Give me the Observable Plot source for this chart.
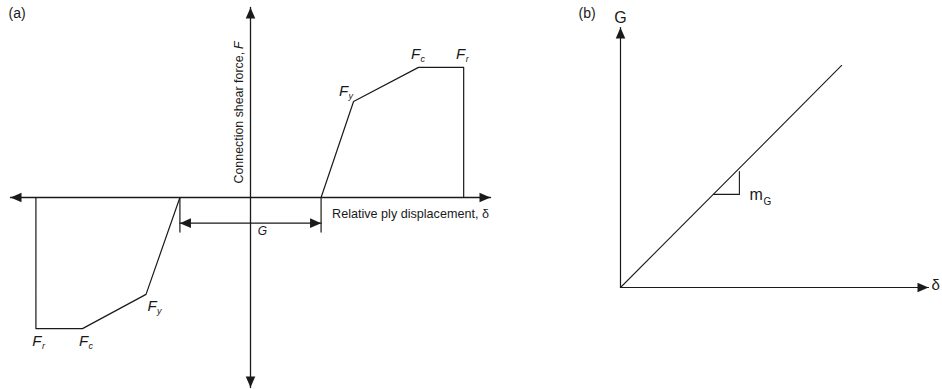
<!DOCTYPE html>
<html><head><meta charset="utf-8">
<script src="https://cdn.jsdelivr.net/npm/d3@7"></script>
<script src="https://cdn.jsdelivr.net/npm/@observablehq/plot@0.6"></script>
<style>
body{margin:0;background:#fff;}
#wrap{display:flex;width:942px;height:389px;overflow:hidden;background:#fff;}
#wrap svg{display:block;flex:none;}
</style></head><body><div id="wrap"></div>
<script>
// ---------- Panel (a): connection backbone (schematic units) ----------
const posDelta = [5, 7.3, 11.9, 15.1, 15.1];
const posForce = [0, 5.05, 6.85, 6.85, 0];
const negDelta = [-5, -7.4, -11.9, -15.2, -15.2];
const negForce = [0, -5.1, -6.9, -6.9, 0];
const pointSubs = ["", "y", "c", "r", ""];          // F_y, F_c, F_r at vertices
const gapHalf = 5;                                    // G / 2
const gapLevel = -1.35;                               // dimension line level
const gapTickEnd = -1.82;                             // end of extension lines
const axisA = {xMin: -17, xMax: 17, yMin: -10, yMax: 10};
const yLabelA = "Connection shear force,";
const yVarA = "F";
const yLabelAt = 7.82;
const xLabelA = "Relative ply displacement, δ";
const gapLabel = "G";
const titleA = "(a)";

// ---------- Panel (b): G vs delta ----------
const bDelta = [0, 7.18];
const bG = [0, 8.54];
const slopeDelta = [3.02, 3.86, 3.86];
const slopeG = [3.58, 3.58, 4.46];
const axisB = {xMax: 10, yMax: 10};
const titleB = "(b)";
const yLabelB = "G";
const xLabelB = "δ";
const slopeLabel = "m";
const slopeSub = "G";

// ---------- helpers ----------
const INK = "#1a1a1a";
const FONT = "'Liberation Sans', Arial, Helvetica, sans-serif";
const pts = (xs, ys, extra) => xs.map((x, i) => ({x, y: ys[i], ...(extra ? {s: extra[i]} : {})}));

function arrowSym(angle) { // tip at origin, pointing in direction angle (deg, 0=right, 90=down)
  const a = angle * Math.PI / 180, c = Math.cos(a), s = Math.sin(a);
  const L = 11, w = 4.8;
  const p = [[0, 0], [-L, -w], [-L, w]].map(([x, y]) => [x * c - y * s, x * s + y * c]);
  return {draw(ctx) { ctx.moveTo(p[0][0], p[0][1]); ctx.lineTo(p[1][0], p[1][1]); ctx.lineTo(p[2][0], p[2][1]); ctx.closePath(); }};
}
const head = (x, y, angle) => Plot.dot([{x, y}], {x: "x", y: "y", symbol: arrowSym(angle), r: 4, fill: INK, stroke: "none"});

function fLabels(data, dx, dy) {
  return [
    Plot.text(data, {x: "x", y: "y", text: () => "F", dx, dy, fontSize: 15, fontStyle: "italic", textAnchor: "middle", lineAnchor: "bottom", fill: INK}),
    Plot.text(data, {x: "x", y: "y", text: "s", dx: dx + 5, dy: dy + 3, fontSize: 9, fontStyle: "italic", textAnchor: "start", lineAnchor: "bottom", fill: INK})
  ];
}

const pos = pts(posDelta, posForce, pointSubs);
const neg = pts(negDelta, negForce, pointSubs);

const plotA = Plot.plot({
  width: 560, height: 389,
  marginTop: 0, marginRight: 0, marginBottom: 0, marginLeft: 0,
  style: {fontFamily: FONT, background: "transparent"},
  x: {domain: [axisA.xMin, axisA.xMax], range: [10, 490], axis: null},
  y: {domain: [axisA.yMin, axisA.yMax], range: [387, 7], axis: null},
  marks: [
    // axes
    Plot.line(pts([axisA.xMin, axisA.xMax], [0, 0]), {x: "x", y: "y", stroke: INK, strokeWidth: 1.3}),
    Plot.line(pts([0, 0], [axisA.yMin, axisA.yMax]), {x: "x", y: "y", stroke: INK, strokeWidth: 1.3}),
    head(axisA.xMax, 0, 0), head(axisA.xMin, 0, 180),
    head(0, axisA.yMax, -90), head(0, axisA.yMin, 90),
    // backbone curves
    Plot.line(pos, {x: "x", y: "y", stroke: INK, strokeWidth: 1.2}),
    Plot.line(neg, {x: "x", y: "y", stroke: INK, strokeWidth: 1.2}),
    // G dimension
    Plot.line(pts([-gapHalf, -gapHalf], [0, gapTickEnd]), {x: "x", y: "y", stroke: INK, strokeWidth: 1.2}),
    Plot.line(pts([gapHalf, gapHalf], [0, gapTickEnd]), {x: "x", y: "y", stroke: INK, strokeWidth: 1.2}),
    Plot.line(pts([-gapHalf, gapHalf], [gapLevel, gapLevel]), {x: "x", y: "y", stroke: INK, strokeWidth: 1.2}),
    head(-gapHalf, gapLevel, 180), head(gapHalf, gapLevel, 0),
    Plot.text([gapLabel], {x: () => 0, y: () => gapLevel, text: d => d, dx: 12, dy: 8, fontSize: 12, fontStyle: "italic", fill: INK}),
    // point labels
    ...fLabels([pos[1]], -10, -6),
    ...fLabels([pos[2], pos[3]], -3, -8),
    ...fLabels([neg[1]], 6, 17),
    ...fLabels([neg[2], neg[3]], 1, 17),
    // axis labels
    Plot.text([yLabelA], {x: () => 0, y: () => yLabelAt, text: d => d, rotate: -90, textAnchor: "end", lineAnchor: "middle", dx: -11, dy: 3, fontSize: 12.4, fill: INK}),
    Plot.text([yVarA], {x: () => 0, y: () => yLabelAt, text: d => d, rotate: -90, textAnchor: "start", lineAnchor: "middle", dx: -11, dy: 0, fontSize: 12.4, fontStyle: "italic", fill: INK}),
    Plot.text([xLabelA], {x: () => gapHalf, y: () => 0, text: d => d, textAnchor: "start", lineAnchor: "middle", dx: 11, dy: 16, fontSize: 12.6, fill: INK}),
    Plot.text([titleA], {frameAnchor: "top-left", text: d => d, dx: 8, dy: 8, textAnchor: "start", lineAnchor: "top", fontSize: 14, fill: INK})
  ]
});

const plotB = Plot.plot({
  width: 382, height: 389,
  marginTop: 0, marginRight: 0, marginBottom: 0, marginLeft: 0,
  style: {fontFamily: FONT, background: "transparent", overflow: "hidden"},
  x: {domain: [0, axisB.xMax], range: [60, 368], axis: null},
  y: {domain: [0, axisB.yMax], range: [287, 27], axis: null},
  marks: [
    Plot.line(pts([0, axisB.xMax], [0, 0]), {x: "x", y: "y", stroke: INK, strokeWidth: 1.2}),
    Plot.line(pts([0, 0], [0, axisB.yMax]), {x: "x", y: "y", stroke: INK, strokeWidth: 1.2}),
    head(axisB.xMax, 0, 0), head(0, axisB.yMax, -90),
    Plot.line(pts(bDelta, bG), {x: "x", y: "y", stroke: INK, strokeWidth: 1.1}),
    Plot.line(pts(slopeDelta, slopeG), {x: "x", y: "y", stroke: INK, strokeWidth: 1.1}),
    Plot.text([slopeLabel], {x: () => slopeDelta[1], y: () => slopeG[1], text: d => d, dx: 10, dy: 6, textAnchor: "start", lineAnchor: "bottom", fontSize: 16, fill: INK}),
    Plot.text([slopeSub], {x: () => slopeDelta[1], y: () => slopeG[1], text: d => d, dx: 24, dy: 11, textAnchor: "start", lineAnchor: "bottom", fontSize: 10, fill: INK}),
    Plot.text([yLabelB], {x: () => 0, y: () => axisB.yMax, text: d => d, dy: -5, textAnchor: "middle", lineAnchor: "bottom", fontSize: 16, fill: INK}),
    Plot.text([xLabelB], {x: () => axisB.xMax, y: () => 0, text: d => d, dx: 3, dy: -2, textAnchor: "start", lineAnchor: "middle", fontSize: 15, fill: INK}),
    Plot.text([titleB], {frameAnchor: "top-left", text: d => d, dx: 18, dy: 8, textAnchor: "start", lineAnchor: "top", fontSize: 14, fill: INK})
  ]
});

document.getElementById("wrap").append(plotA, plotB);
</script>
</body></html>
